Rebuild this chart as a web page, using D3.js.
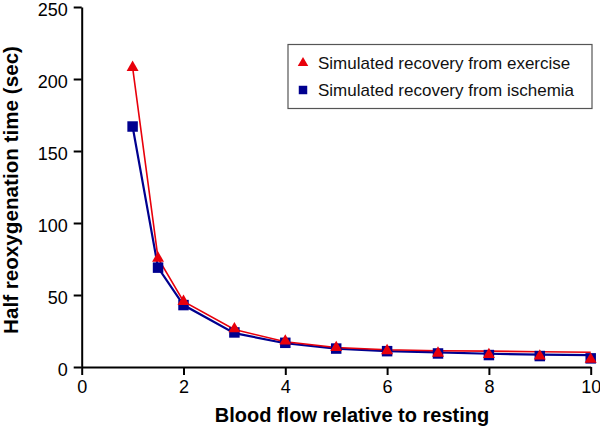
<!DOCTYPE html>
<html><head><meta charset="utf-8">
<script src="https://cdn.jsdelivr.net/npm/d3@7"></script>
<style>body{margin:0;background:#fff}svg{display:block}text{font-family:"Liberation Sans",Arial,sans-serif}</style>
</head><body>
<script>
const flow = [1, 1.5, 2, 3, 4, 5, 6, 7, 8, 9, 10];
const exerciseMarkers = [208, 75.5, 45.5, 26.5, 18, 13.5, 11.3, 9.6, 8.6, 7.6, 5.3];
const exerciseLine    = [208, 75.5, 45.5, 26, 17.5, 13.5, 12, 11.3, 11, 10.6, 10.2];
const ischemiaMarkers = [167, 69, 43, 24, 16.8, 12.8, 11, 9.4, 8.3, 7.6, 6];
const ischemiaLine    = [167, 69, 43, 23.5, 16.5, 12.8, 11, 10.2, 9.2, 8.6, 8.2];
const xTicks = [0, 2, 4, 6, 8, 10];
const yTicks = [0, 50, 100, 150, 200, 250];
const legendLabels = ["Simulated recovery from exercise", "Simulated recovery from ischemia"];
const RED = "#e8000b", BLUE = "#00008f";

const W = 600, H = 428;
const svg = d3.select("body").append("svg").attr("width", W).attr("height", H);
const x = d3.scaleLinear().domain([0, 10]).range([81.7, 590.7]);
const y = d3.scaleLinear().domain([0, 250]).range([367, 7]);

const xAxis = svg.append("g").attr("transform", `translate(0,${y(0)})`)
  .call(d3.axisBottom(x).tickValues(xTicks).tickSize(8).tickPadding(5).tickSizeOuter(0));
const yAxis = svg.append("g").attr("transform", `translate(${x(0)},0)`)
  .call(d3.axisLeft(y).tickValues(yTicks).tickSize(8).tickPadding(6).tickSizeOuter(0));
[xAxis, yAxis].forEach(g => {
  g.select(".domain").attr("stroke", "#000").attr("stroke-width", 2);
  g.selectAll(".tick line").attr("stroke", "#000").attr("stroke-width", 2);
  g.selectAll(".tick text").attr("fill", "#000").style("font-size", "18px")
    .style("font-family", '"Liberation Sans",Arial,sans-serif');
});
yAxis.selectAll(".tick text").attr("dy", "0.45em");

svg.append("text").attr("x", 352).attr("y", 422).attr("text-anchor", "middle")
  .style("font-size", "20px").style("font-weight", "bold").text("Blood flow relative to resting");
svg.append("text").attr("transform", "translate(18,190) rotate(-90)").attr("text-anchor", "middle")
  .attr("textLength", 288).attr("lengthAdjust", "spacingAndGlyphs")
  .style("font-size", "20px").style("font-weight", "bold").text("Half reoxygenation time (sec)");

const line = d3.line().x(d => x(d[0])).y(d => y(d[1]));
const zip = (a, b) => a.map((v, i) => [v, b[i]]);

svg.append("path").datum(zip(flow, ischemiaLine)).attr("d", line)
  .attr("fill", "none").attr("stroke", BLUE).attr("stroke-width", 2.2);
svg.append("path").datum(zip(flow, exerciseLine)).attr("d", line)
  .attr("fill", "none").attr("stroke", RED).attr("stroke-width", 1.6);

const sq = d3.symbol().type(d3.symbolSquare).size(110);
const tri = d3.symbol().type(d3.symbolTriangle).size(62);

svg.append("g").selectAll("path").data(zip(flow, ischemiaMarkers)).join("path")
  .attr("d", sq).attr("transform", d => `translate(${x(d[0])},${y(d[1])})`).attr("fill", BLUE);
svg.append("g").selectAll("path").data(zip(flow, exerciseMarkers)).join("path")
  .attr("d", tri).attr("transform", d => `translate(${x(d[0])},${y(d[1])})`).attr("fill", RED);

// legend
const lg = svg.append("g");
lg.append("rect").attr("x", 288).attr("y", 44.5).attr("width", 304).attr("height", 64)
  .attr("fill", "#fff").attr("stroke", "#555").attr("stroke-width", 1.2);
lg.append("path").attr("d", d3.symbol().type(d3.symbolTriangle).size(48))
  .attr("transform", "translate(303,63)").attr("fill", RED);
lg.append("path").attr("d", d3.symbol().type(d3.symbolSquare).size(72))
  .attr("transform", "translate(303,90)").attr("fill", BLUE);
lg.selectAll("text.l").data(legendLabels).join("text").attr("class", "l")
  .attr("x", 318).attr("y", (d, i) => 68.5 + i * 27).style("font-size", "17px").attr("fill", "#111").text(d => d);
</script>
</body></html>
